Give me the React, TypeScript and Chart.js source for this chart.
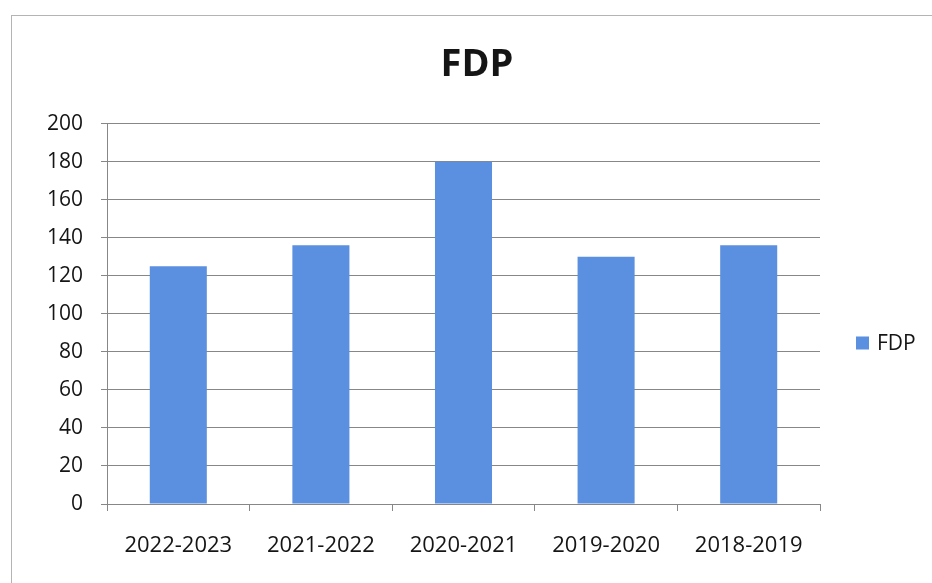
import React, { useEffect, useRef } from "react";
import { Chart, registerables } from "chart.js";

Chart.register(...registerables);

const categories = ["2022-2023", "2021-2022", "2020-2021", "2019-2020", "2018-2019"];
const fdpValues = [125, 136, 180, 130, 136];
const seriesLabel = "FDP";
const chartTitle = "FDP";
const yMin = 0;
const yMax = 200;
const yStep = 20;

const FONT = "'Open Sans', 'DejaVu Sans', sans-serif";
const BAR_COLOR = "#5b8fe0";
const GRID_COLOR = "#878787";
const TEXT_COLOR = "#151515";

const frameAndLegend = {
  id: "frameAndLegend",
  beforeDraw(chart: any) {
    const ctx = chart.ctx;
    ctx.save();
    ctx.fillStyle = "#ffffff";
    ctx.fillRect(0, 0, chart.width, chart.height);
    ctx.strokeStyle = "#b4b4b4";
    ctx.lineWidth = 1;
    ctx.strokeRect(11.5, 15.5, chart.width + 10, chart.height + 10);
    ctx.restore();
  },
  afterDraw(chart: any) {
    const ctx = chart.ctx;
    const ds = chart.data.datasets[0];
    const area = chart.chartArea;
    const x = area.right + 36;
    const cy = 343;
    ctx.save();
    ctx.fillStyle = ds.backgroundColor;
    ctx.fillRect(x, cy - 6.5, 13, 13);
    ctx.fillStyle = TEXT_COLOR;
    ctx.font = `21px ${FONT}`;
    ctx.textAlign = "left";
    ctx.textBaseline = "middle";
    ctx.fillText(ds.label, x + 21, cy + 1);
    ctx.restore();
  },
};

export default function App() {
  const ref = useRef<HTMLCanvasElement | null>(null);

  useEffect(() => {
    if (!ref.current) return;
    const chart = new Chart(ref.current, {
      type: "bar",
      data: {
        labels: categories,
        datasets: [
          {
            label: seriesLabel,
            data: fdpValues,
            backgroundColor: BAR_COLOR,
            borderWidth: 0,
            categoryPercentage: 1,
            barPercentage: 0.4,
            yAxisID: "y",
          },
        ],
      },
      options: {
        animation: false,
        responsive: false,
        devicePixelRatio: 1,
        layout: { padding: { left: 22, right: 0, top: 0, bottom: 0 } },
        plugins: {
          legend: { display: false },
          tooltip: { enabled: false },
          title: {
            display: true,
            text: chartTitle,
            color: TEXT_COLOR,
            font: { family: FONT, size: 38, weight: "bold", lineHeight: 1.2 },
            padding: { top: 42, bottom: 36 },
          },
        },
        scales: {
          x: {
            offset: true,
            grid: {
              offset: true,
              drawOnChartArea: false,
              drawTicks: true,
              tickLength: 7,
              color: GRID_COLOR,
            },
            border: { display: true, color: GRID_COLOR },
            ticks: {
              color: TEXT_COLOR,
              font: { family: FONT, size: 22 },
              padding: 22,
              maxRotation: 0,
            },
            afterFit(scale: any) {
              scale.height = 79;
            },
          },
          y: {
            position: "left",
            min: yMin,
            max: yMax,
            ticks: {
              stepSize: yStep,
              color: TEXT_COLOR,
              font: { family: FONT, size: 21 },
              padding: 18,
            },
            grid: {
              color: GRID_COLOR,
              drawTicks: true,
              tickLength: 6,
            },
            border: { display: true, color: GRID_COLOR },
            afterFit(scale: any) {
              scale.width = 85;
            },
          },
          legendSpace: {
            type: "linear",
            position: "right",
            display: true,
            min: yMin,
            max: yMax,
            ticks: { display: false },
            grid: { display: false, drawTicks: false },
            border: { display: false },
            afterFit(scale: any) {
              scale.width = 112;
            },
          },
        },
      },
      plugins: [frameAndLegend],
    });
    return () => chart.destroy();
  }, []);

  return (
    <div style={{ position: "absolute", left: 0, top: 0, width: 932, height: 583 }}>
      <canvas ref={ref} width={932} height={583} style={{ display: "block" }} />
    </div>
  );
}
